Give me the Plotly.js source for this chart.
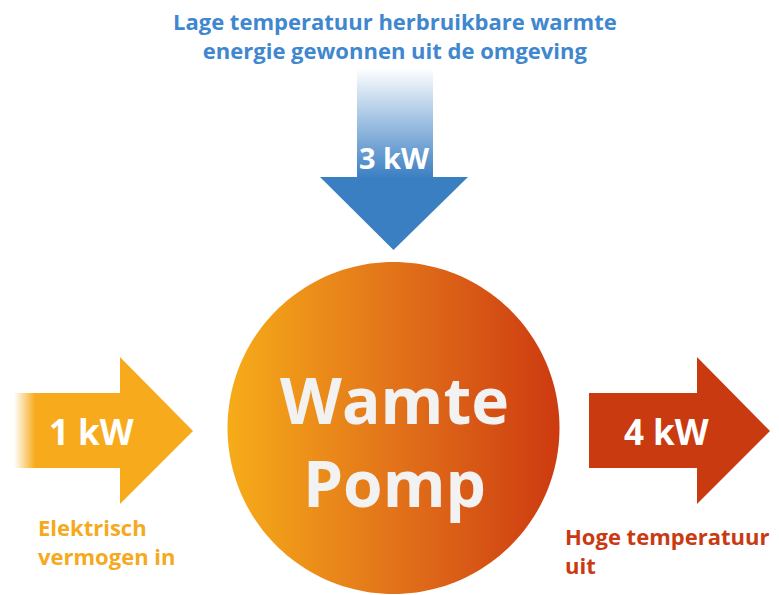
<!DOCTYPE html>
<html>
<head>
<meta charset="utf-8">
<script src="https://cdn.plot.ly/plotly-3.0.1.min.js"></script>
<style>html,body{margin:0;padding:0;background:#fff;}#chart{width:779px;height:595px;}</style>
</head>
<body>
<div id="chart"></div>
<script>
// ---- data ----
const flowNames = ['Elektrisch<br>vermogen in', 'Lage temperatuur herbruikbare warmte<br>energie gewonnen uit de omgeving', 'Hoge temperatuur<br>uit'];
const flowValues = [1, 3, 4];
const flowUnit = 'kW';
const centerLabel = ['Wamte', 'Pomp'];

// ---- styling / geometry ----
const FONT = '"Open Sans", "Noto Sans", sans-serif';
const cOrange = '#F7AB1C', cBlue = '#3B7FC3', cRed = '#C93A11';
const traces = [];

// circle (heat pump)
const cx = 393.5, cy = 428, r = 166;
const circX = [], circY = [];
for (let i = 0; i <= 180; i++) {
  const a = i / 180 * 2 * Math.PI;
  circX.push(cx + r * Math.cos(a));
  circY.push(cy + r * Math.sin(a));
}
traces.push({x: circX, y: circY, mode: 'none', fill: 'toself', hoverinfo: 'skip', showlegend: false,
  fillgradient: {type: 'horizontal', colorscale: [[0, '#F6AC19'], [0.5, '#E2731A'], [1, '#CD3A10']]}});

// top arrow (3 kW): faded shaft + head
traces.push({x: [357, 433, 433, 357, 357], y: [68, 68, 179, 179, 68], mode: 'none', fill: 'toself', hoverinfo: 'skip', showlegend: false,
  fillgradient: {type: 'vertical', start: 68, stop: 178, colorscale: [[0, 'rgba(59,127,195,0)'], [1, cBlue]]}});
traces.push({x: [320, 468, 393.5, 320], y: [177, 177, 250, 177], mode: 'none', fill: 'toself', fillcolor: cBlue, hoverinfo: 'skip', showlegend: false});

// left arrow (1 kW)
traces.push({x: [14, 121, 121, 14, 14], y: [393, 393, 468, 468, 393], mode: 'none', fill: 'toself', hoverinfo: 'skip', showlegend: false,
  fillgradient: {type: 'horizontal', start: 14, stop: 120, colorscale: [[0, 'rgba(247,171,28,0)'], [0.2, cOrange], [1, cOrange]]}});
traces.push({x: [120, 193, 120, 120], y: [357, 431, 504, 357], mode: 'none', fill: 'toself', fillcolor: cOrange, hoverinfo: 'skip', showlegend: false});

// right arrow (4 kW)
traces.push({x: [589, 697, 697, 770, 697, 697, 589, 589], y: [393, 393, 357, 431, 504, 468, 468, 393], mode: 'none', fill: 'toself', fillcolor: cRed, hoverinfo: 'skip', showlegend: false});

const annotations = [
  // value labels
  {x: 91, y: 431, text: flowValues[0] + ' ' + flowUnit, font: {size: 35, color: '#fff', family: FONT, weight: 'bold'}},
  {x: 394, y: 157, text: flowValues[1] + ' ' + flowUnit, font: {size: 29, color: '#fff', family: FONT, weight: 'bold'}},
  {x: 666, y: 431, text: flowValues[2] + ' ' + flowUnit, font: {size: 35, color: '#fff', family: FONT, weight: 'bold'}},
  // descriptions
  {x: 395, y: 35, text: flowNames[1], font: {size: 22, color: '#3F87CF', family: FONT, weight: 'bold'}},
  {x: 36, y: 541, xanchor: 'left', align: 'left', text: flowNames[0], font: {size: 22, color: '#F5AA1E', family: FONT, weight: 'bold'}},
  {x: 563, y: 550, xanchor: 'left', align: 'left', text: flowNames[2], font: {size: 22, color: '#C93A12', family: FONT, weight: 'bold'}},
  // center
  {x: 394, y: 441, text: centerLabel.join('<br>'), font: {size: 64, color: '#F2F2F2', family: FONT, weight: 'bold'}}
].map(a => Object.assign({xref: 'x', yref: 'y', showarrow: false, xanchor: 'center', yanchor: 'middle'}, a));

const layout = {
  width: 779, height: 595,
  margin: {l: 0, r: 0, t: 0, b: 0},
  paper_bgcolor: '#fff', plot_bgcolor: '#fff',
  xaxis: {range: [0, 779], visible: false, fixedrange: true},
  yaxis: {range: [595, 0], visible: false, fixedrange: true},
  annotations: annotations,
  showlegend: false
};
Plotly.newPlot('chart', traces, layout, {displayModeBar: false, staticPlot: true});
</script>
</body>
</html>
